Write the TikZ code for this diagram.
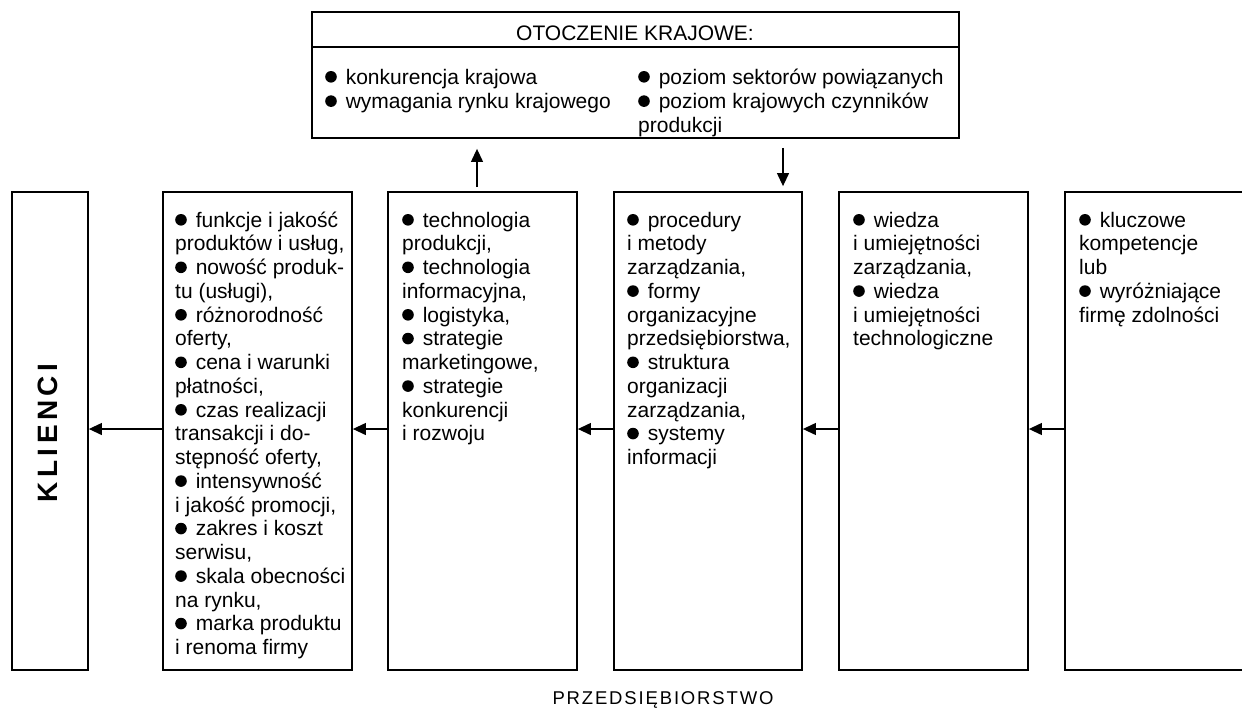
\documentclass[tikz,border=0pt]{standalone}
\usepackage{fontspec}
\setmainfont{Liberation Sans}
\usetikzlibrary{arrows.meta,calc}
\newcommand{\bul}{\tikz[baseline=0pt,x=1pt,y=1pt]\fill (5.8,7.2) circle[radius=5.8];\hspace{9pt}}
\tikzset{
  box/.style={draw, line width=1.8pt, rectangle, inner sep=0pt},
  tallbox/.style={box, minimum width=189pt, minimum height=478pt},
  txt/.style={anchor=base west, inner sep=0pt, font=\fontsize{21}{23.75}\selectfont},
  toptxt/.style={anchor=base west, inner sep=0pt, font=\fontsize{21}{24.3}\selectfont},
  arr/.style={-{Triangle[length=13pt,width=12pt]}, line width=1.2pt},
}
\begin{document}
\begin{tikzpicture}[x=1pt,y=-1pt]
\useasboundingbox (0,0) rectangle (1242,713);
\clip (0,0) rectangle (1242,713);

% top box
\node[box, minimum width=647pt, minimum height=126pt] (top) at (635.5,75) {};
\draw[line width=1.8pt] ($(top.north west)+(0,36)$) -- ($(top.north east)+(0,36)$);
\node[anchor=base, inner sep=0pt, font=\fontsize{21}{24}\selectfont] (head) at (635,40.5) {OTOCZENIE KRAJOWE:};
\node[toptxt] (tl) at (325,84) {\parbox[t]{300pt}{\bul konkurencja krajowa\\\bul wymagania rynku krajowego}};
\node[toptxt] (tr) at (638,84) {\parbox[t]{330pt}{\bul poziom sektorów powiązanych\\\bul poziom krajowych czynników\\produkcji}};

% lower boxes
\node[box, minimum width=76pt, minimum height=478pt] (kl) at (50,431) {};
\node[tallbox] (b2) at (257.5,431) {};
\node[tallbox] (b3) at (482.5,431) {};
\node[tallbox, minimum width=188pt] (b4) at (708,431) {};
\node[tallbox] (b5) at (933.5,431) {};
\node[tallbox, minimum width=230pt] (b6) at (1180,431) {};

\node[rotate=90, inner sep=0pt, font=\fontsize{28}{30}\selectfont\bfseries\addfontfeature{LetterSpace=16}] (kt) at (48,433) {KLIENCI};

\node[txt] (t2) at (175,227) {\parbox[t]{200pt}{\bul funkcje i jakość\\produktów i usług,\\\bul nowość produk-\\tu (usługi),\\\bul różnorodność\\oferty,\\\bul cena i warunki\\płatności,\\\bul czas realizacji\\transakcji i do-\\stępność oferty,\\\bul intensywność\\i jakość promocji,\\\bul zakres i koszt\\serwisu,\\\bul skala obecności\\na rynku,\\\bul marka produktu\\i renoma firmy}};
\node[txt] (t3) at (402,227) {\parbox[t]{200pt}{\bul technologia\\produkcji,\\\bul technologia\\informacyjna,\\\bul logistyka,\\\bul strategie\\marketingowe,\\\bul strategie\\konkurencji\\i rozwoju}};
\node[txt] (t4) at (627,227) {\parbox[t]{200pt}{\bul procedury\\i metody\\zarządzania,\\\bul formy\\organizacyjne\\przedsiębiorstwa,\\\bul struktura\\organizacji\\zarządzania,\\\bul systemy\\informacji}};
\node[txt] (t5) at (853,227) {\parbox[t]{200pt}{\bul wiedza\\i umiejętności\\zarządzania,\\\bul wiedza\\i umiejętności\\technologiczne}};
\node[txt] (t6) at (1079,227) {\parbox[t]{200pt}{\bul kluczowe\\kompetencje\\lub\\\bul wyróżniające\\firmę zdolności}};

% arrows
\draw[arr] ([yshift=2pt]b6.west) -- ([yshift=2pt]b5.east);
\draw[arr] ([yshift=2pt]b5.west) -- ([yshift=2pt]b4.east);
\draw[arr] ([yshift=2pt]b4.west) -- ([yshift=2pt]b3.east);
\draw[arr] ([yshift=2pt]b3.west) -- ([yshift=2pt]b2.east);
\draw[arr] ([yshift=2pt]b2.west) -- ([yshift=2pt]kl.east);
\draw[arr, shorten <=4pt, shorten >=10pt] ([xshift=-5.5pt]b3.north) -- ([xshift=-5.5pt]b3.north |- top.south);
\draw[arr, shorten <=9pt, shorten >=5pt] ([xshift=75pt]b4.north |- top.south) -- ([xshift=75pt]b4.north);

\node[inner sep=0pt, font=\fontsize{18.5}{20}\selectfont\addfontfeature{LetterSpace=10}] (pr) at (663,700) {PRZEDSIĘBIORSTWO};
\end{tikzpicture}
\end{document}
